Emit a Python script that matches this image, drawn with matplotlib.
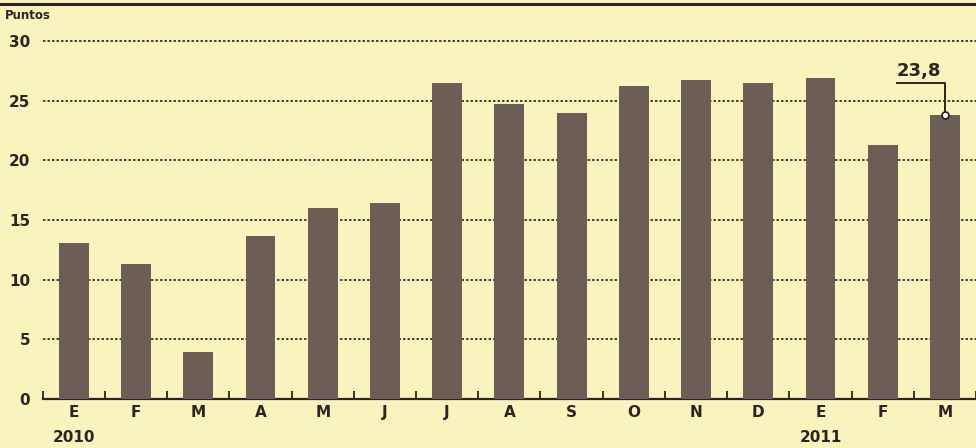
import matplotlib.pyplot as plt
import numpy as np

months = ["E", "F", "M", "A", "M", "J", "J", "A", "S", "O", "N", "D", "E", "F", "M"]
values = [13.1, 11.3, 3.9, 13.7, 16.0, 16.4, 26.5, 24.7, 24.0, 26.2, 26.7, 26.5, 26.9, 21.3, 23.8]
years = ["2010", "2011"]
year_pos = [0, 12]
y_ticks = [0, 5, 10, 15, 20, 25, 30]
last_label = "23,8"

BG = "#f9f4bd"
BAR = "#6d5d57"
INK = "#2f2321"

plt.rcParams["font.family"] = ["DejaVu Sans"]
plt.rcParams["font.weight"] = "bold"

fig = plt.figure(figsize=(9.76, 4.48), dpi=100, facecolor=BG)
ax = fig.add_axes([42.7 / 976, 49 / 448, (976 - 42.7) / 976, 358 / 448])
ax.set_facecolor(BG)

x = np.arange(len(values))
ax.bar(x, values, width=0.48, color=BAR, zorder=3)

ax.set_xlim(-0.5, 14.42)
ax.set_ylim(0, 30)

# dotted grid
for yv in y_ticks[1:]:
    ax.axhline(yv, color=INK, linestyle=(0, (1.5, 1.2)), linewidth=1.2, zorder=1,
               clip_on=False)

for s in ["top", "right", "left"]:
    ax.spines[s].set_visible(False)
ax.spines["bottom"].set_color(INK)
ax.spines["bottom"].set_linewidth(1.6)

ax.set_yticks(y_ticks)
ax.set_yticklabels([str(v) for v in y_ticks], fontsize=11, color=INK, fontweight="bold")
ax.tick_params(axis="y", length=0, pad=9)

# tick marks between bars, labels at bar centres
ax.set_xticks(np.arange(-0.5, len(values), 1.0))
ax.set_xticklabels([])
ax.tick_params(axis="x", which="major", direction="in", length=6, width=1.3, color=INK)
ax.set_xticks(x, minor=True)
ax.set_xticklabels(months, minor=True, fontsize=11, color=INK, fontweight="bold")
ax.tick_params(axis="x", which="minor", length=0, pad=4)

for yr, p in zip(years, year_pos):
    ax.text(p, -2.6, yr, ha="center", va="top", fontsize=11, color=INK,
            fontweight="bold", clip_on=False)

fig.text(5 / 976, 1 - 22 / 448, "Puntos", fontsize=8.5, color=INK, fontweight="bold",
         ha="left", va="bottom")

# annotation for last value
last = len(values) - 1
ax.plot([13.23, last, last], [26.5, 26.5, values[last]], color=INK, linewidth=1.4,
        zorder=4, clip_on=False)
ax.plot(last, values[last], "o", markersize=5, markerfacecolor="white",
        markeredgecolor=INK, markeredgewidth=1.3, zorder=5)
ax.text(13.23, 26.75, last_label, ha="left", va="bottom", fontsize=13,
        color=INK, fontweight="bold")

# top rule
fig.add_artist(plt.Line2D([0, 1], [1 - 4 / 448, 1 - 4 / 448], color=INK, linewidth=2.2))

fig.savefig("out.png", dpi=100, facecolor=BG)
